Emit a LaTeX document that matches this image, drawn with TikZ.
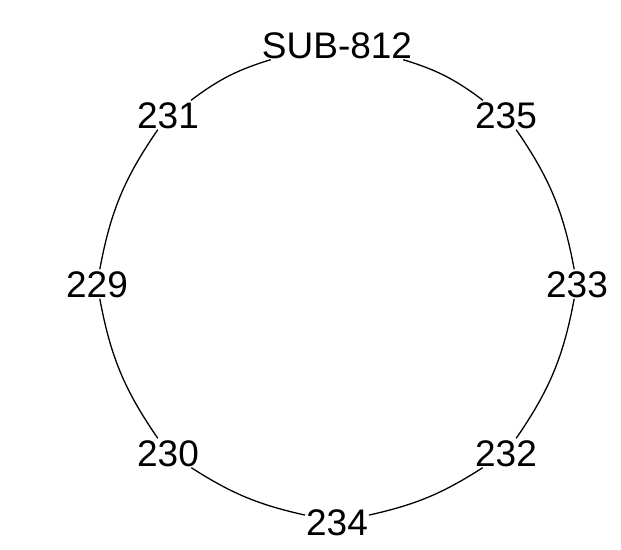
\documentclass[tikz,border=0pt]{standalone}
\usepackage{fontspec}
\setmainfont{Liberation Sans}
\begin{document}
\begin{tikzpicture}[x=1pt,y=1pt,
  lbl/.style={font=\fontsize{37}{37}\selectfont, text height=27pt, text depth=0pt, inner sep=1pt, anchor=center},
  link/.style={line width=1.3pt, black}]
\useasboundingbox (-337,-265) rectangle (284,284);
\node[lbl] (n90)  at (90:239)  {SUB-812};
\node[lbl] (n45)  at (45:239)  {235};
\node[lbl] (n0)   at (0:240)   {233};
\node[lbl] (n315) at (-45:239) {232};
\node[lbl] (n270) at (-90:238) {234};
\node[lbl] (n225) at (-135:239) {230};
\node[lbl] (n180) at (180:240) {229};
\node[lbl] (n135) at (135:239) {231};
\draw[link] (n90) to[bend left=10] (n45);
\draw[link] (n45) to[bend left=12] (n0);
\draw[link] (n0) to[bend left=12] (n315);
\draw[link] (n315) to[bend left=10] (n270);
\draw[link] (n270) to[bend left=10] (n225);
\draw[link] (n225) to[bend left=12] (n180);
\draw[link] (n180) to[bend left=12] (n135);
\draw[link] (n135) to[bend left=10] (n90);
\end{tikzpicture}
\end{document}
